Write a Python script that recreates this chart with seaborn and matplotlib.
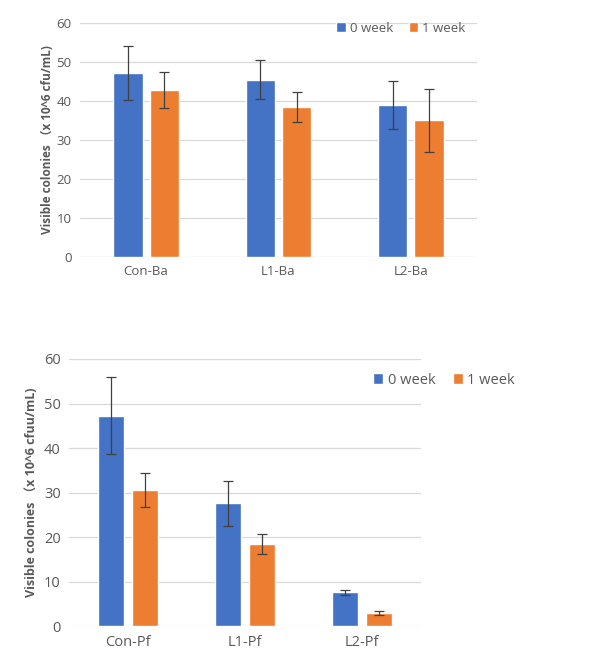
import numpy as np
import pandas as pd
import matplotlib
matplotlib.use("Agg")
import matplotlib.pyplot as plt
import seaborn as sns

sns.set_style("white")
plt.rcParams['font.family'] = ['Open Sans', 'Noto Sans CJK SC', 'DejaVu Sans']

# 数据
ba_groups = ["Con-Ba", "L1-Ba", "L2-Ba"]
ba_week0 = [47.2, 45.4, 39.0]
ba_week1 = [42.8, 38.5, 35.0]
ba_err0 = [7.0, 5.0, 6.1]
ba_err1 = [4.6, 3.8, 8.1]

pf_groups = ["Con-Pf", "L1-Pf", "L2-Pf"]
pf_week0 = [47.3, 27.6, 7.6]
pf_week1 = [30.5, 18.5, 2.9]
pf_err0 = [8.6, 5.1, 0.6]
pf_err1 = [3.8, 2.2, 0.45]

series = ["0 week", "1 week"]
colors = ["#4472C4", "#ED7D31"]
text_c = "#595959"


def draw(ax, groups, v0, v1, e0, e1, ylabel, tick_fs, lab_fs, label_x, leg_anchor, width, gap):
    df = pd.DataFrame({
        "group": groups * 2,
        "series": [series[0]] * 3 + [series[1]] * 3,
        "value": v0 + v1,
    })
    sns.barplot(data=df, x="group", y="value", hue="series", palette=colors,
                errorbar=None, width=width, gap=gap, saturation=1, ax=ax, zorder=3)
    # 误差线
    errs = e0 + e1
    vals = v0 + v1
    bars = ax.patches[:6]
    xs = [b.get_x() + b.get_width() / 2 for b in bars]
    ax.errorbar(xs, vals, yerr=errs, fmt="none", ecolor="#404040",
                elinewidth=0.9, capsize=3.5, capthick=0.9, zorder=4)
    ax.set_ylim(0, 60)
    ax.set_xlim(-0.5, 2.5)
    ax.set_yticks(range(0, 61, 10))
    ax.yaxis.grid(True, color="#D9D9D9", linewidth=0.9, zorder=0)
    ax.set_axisbelow(True)
    sns.despine(ax=ax, left=True, bottom=True)
    ax.tick_params(length=0, labelsize=tick_fs, colors=text_c, pad=6)
    ax.set_xlabel("")
    ax.set_ylabel(ylabel, fontsize=lab_fs, fontweight="bold", color=text_c)
    ax.yaxis.set_label_coords(label_x, 0.5)
    h, l = ax.get_legend_handles_labels()
    ax.legend(h, l, ncol=2, frameon=False, loc="center right",
              bbox_to_anchor=leg_anchor, bbox_transform=ax.figure.transFigure,
              fontsize=tick_fs, labelcolor=text_c, handlelength=0.7,
              handleheight=0.7, handletextpad=0.3, columnspacing=1.2)


fig = plt.figure(figsize=(6, 6.68), dpi=100)
ax1 = fig.add_axes([0.1333, 0.6153, 0.6617, 0.3503])
ax2 = fig.add_axes([0.115, 0.0624, 0.5867, 0.4002])

draw(ax1, ba_groups, ba_week0, ba_week1, ba_err0, ba_err1,
     "Visible colonies （x 10^6 cfu/mL)", 9.5, 8.5, -0.066, (0.795, 0.958), 0.55, 0.2)
draw(ax2, pf_groups, pf_week0, pf_week1, pf_err0, pf_err1,
     "Visible colonies （x 10^6 cfuu/mL)", 10.5, 9, -0.088, (0.88, 0.431), 0.58, 0.23)

fig.savefig("out.png", dpi=100)
